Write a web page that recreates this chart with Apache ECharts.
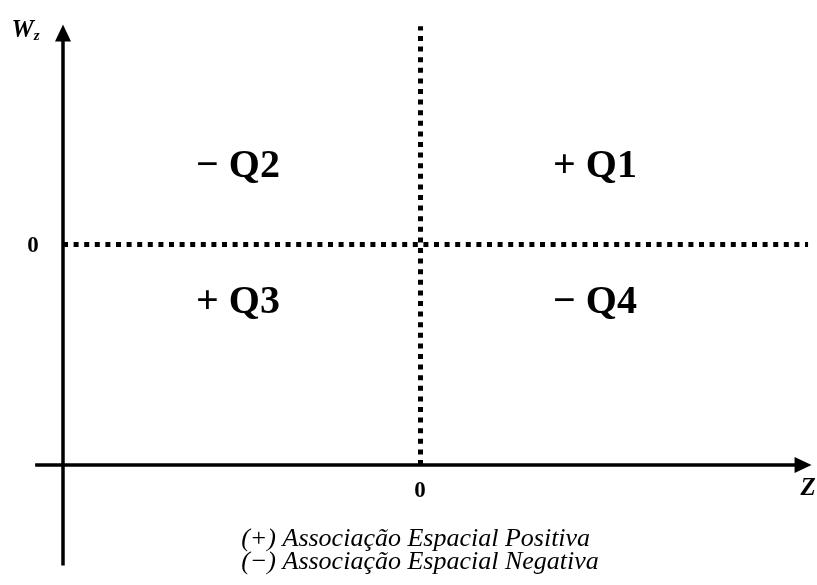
<!DOCTYPE html>
<html><head><meta charset="utf-8">
<script src="https://cdn.jsdelivr.net/npm/echarts@6/dist/echarts.min.js"></script>
<style>html,body{margin:0;padding:0;background:#fff}#c{width:817px;height:585px}</style>
</head><body><div id="c"></div>
<script>
// Quadrant labels
const quadrantNames = ['+ Q1', '\u2212 Q2', '+ Q3', '\u2212 Q4'];
const quadrantX = [0.49, -0.51, -0.51, 0.49];
const quadrantY = [0.35, 0.35, -0.265, -0.265];
// Tick labels (only zero is labelled)
const xTickLabels = ['0'];
const xTickValues = [0];
const yTickLabels = ['0'];
const yTickValues = [0];
// Axis names
const xAxisName = 'Z';
const yAxisName = 'W';
const yAxisSub = 'z';
// Notes under the chart
const noteLines = ['(+) Associa\u00e7\u00e3o Espacial Positiva', '(\u2212) Associa\u00e7\u00e3o Espacial Negativa'];
const noteY = [-1.335, -1.439];
const noteX = -0.501;
// Solid axes (drawn position) and their extents
const solidAxisX = -1;     // vertical solid axis at this z
const solidAxisY = -1;     // horizontal solid axis at this Wz
const hAxisRange = [-1.078, 1.073];
const vAxisRange = [-1.455, 0.955];
// Dotted zero lines
const zeroVRange = [-1, 0.985];
const zeroHRange = [-1, 1.087];

const FONT = '"Liberation Serif", "Times New Roman", serif';
const chart = echarts.init(document.getElementById('c'));

function lbl(extra) {
  return Object.assign({show: true, position: 'inside', color: '#000', opacity: 1,
    fontFamily: FONT, textBorderWidth: 0, align: 'center', verticalAlign: 'middle'}, extra);
}

const labelData = [];
quadrantNames.forEach((n, i) => labelData.push({
  value: [quadrantX[i], quadrantY[i]], name: n,
  label: lbl({fontSize: 40, fontWeight: 'bold'})
}));
xTickLabels.forEach((t, i) => labelData.push({
  value: [xTickValues[i], -1.12], name: t,
  label: lbl({fontSize: 23, fontWeight: 'bold'})
}));
yTickLabels.forEach((t, i) => labelData.push({
  value: [-1.084, yTickValues[i] - 0.01], name: t,
  label: lbl({fontSize: 23, fontWeight: 'bold'})
}));
labelData.push({
  value: [1.087, -1.105], name: xAxisName,
  label: lbl({fontSize: 25, fontWeight: 'bold', fontStyle: 'italic'})
});
labelData.push({
  value: [-1.105, 0.965], name: yAxisName,
  label: lbl({
    formatter: () => '{w|' + yAxisName + '}{z|' + yAxisSub + '}',
    rich: {
      w: {fontFamily: FONT, fontSize: 25, fontWeight: 'bold', fontStyle: 'italic', color: '#000'},
      z: {fontFamily: FONT, fontSize: 15, fontWeight: 'bold', fontStyle: 'italic', color: '#000', padding: [10, 0, 0, 0]}
    }
  })
});
noteLines.forEach((t, i) => labelData.push({
  value: [noteX, noteY[i]], name: t,
  label: lbl({fontSize: 26, fontStyle: 'italic', align: 'left'})
}));

chart.setOption({
  animation: false,
  backgroundColor: '#fff',
  grid: {left: 27.3, right: 4.3, top: 23, bottom: 9.5},
  xAxis: {type: 'value', min: -1.1, max: 1.1, show: false},
  yAxis: {type: 'value', min: -1.5, max: 1.0, show: false},
  series: [
    {
      type: 'line', data: [], clip: false,
      markLine: {
        silent: true, animation: false,
        label: {show: false},
        data: [
          [{coord: [hAxisRange[0], solidAxisY], symbol: 'none'},
           {coord: [hAxisRange[1], solidAxisY], symbol: 'triangle', symbolSize: [16, 17]}],
          [{coord: [solidAxisX, vAxisRange[0]], symbol: 'none'},
           {coord: [solidAxisX, vAxisRange[1]], symbol: 'triangle', symbolSize: [16, 17]}]
        ],
        lineStyle: {color: '#000', width: 3.5, type: 'solid'}
      }
    },
    {
      type: 'line', data: [], clip: false,
      markLine: {
        silent: true, animation: false,
        label: {show: false}, symbol: 'none',
        data: [
          [{coord: [0, zeroVRange[0]]}, {coord: [0, zeroVRange[1]]}],
          [{coord: [zeroHRange[0], 0]}, {coord: [zeroHRange[1], 0]}]
        ],
        lineStyle: {color: '#000', width: 5, type: [5, 5.6], cap: 'butt'}
      }
    },
    {
      type: 'scatter', symbol: 'circle', symbolSize: 0, silent: true, clip: false,
      itemStyle: {color: '#fff', opacity: 1},
      data: labelData,
      label: {show: true, position: 'inside', formatter: p => p.name, color: '#000', fontFamily: FONT}
    }
  ]
});
</script></body></html>
